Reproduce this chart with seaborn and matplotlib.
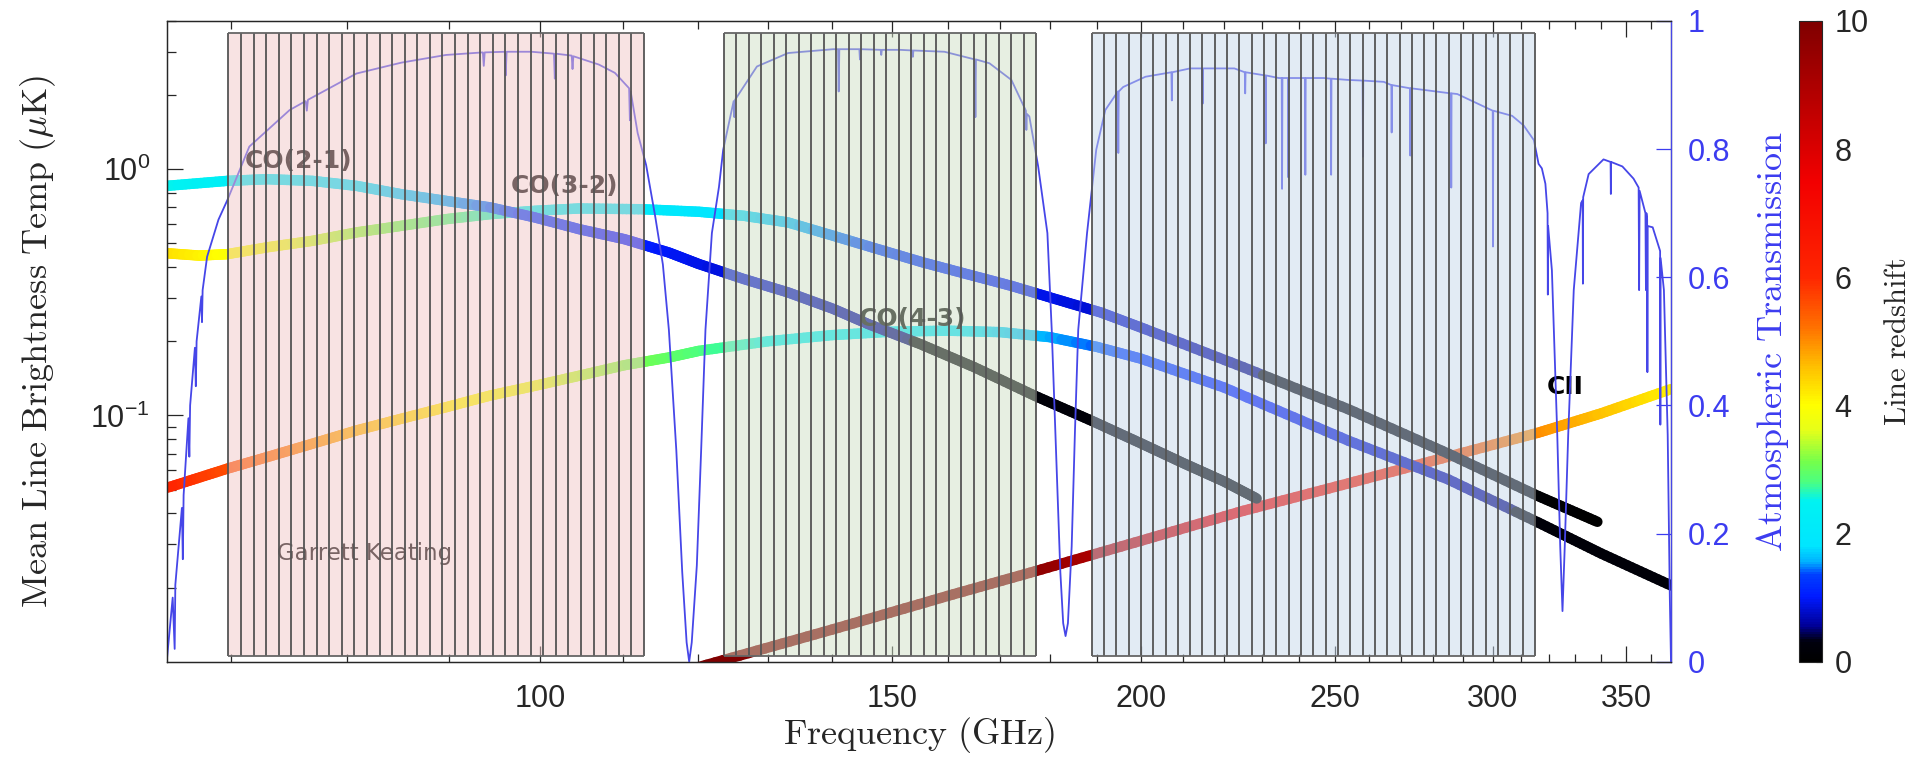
import numpy as np
import matplotlib
matplotlib.use("Agg")
import matplotlib.pyplot as plt
import seaborn as sns
from matplotlib.collections import LineCollection
from matplotlib.colors import LinearSegmentedColormap, Normalize
from matplotlib.cm import ScalarMappable
from matplotlib.ticker import FixedLocator, NullFormatter

# ---------------- data ----------------
co21_rest = 230.538
co21_freq = [65.0, 69.7, 73.0, 76.9, 80.9, 85.2, 89.7, 94.4, 99.4, 104.6, 110.2, 116.0,
             120.1, 126.5, 133.1, 140.2, 146.0, 155.0, 165.0, 177.0, 189.0, 200.0, 210.0,
             220.0, 228.5]
co21_tb = [0.856, 0.897, 0.911, 0.897, 0.856, 0.792, 0.744, 0.700, 0.637, 0.571, 0.520, 0.459,
           0.412, 0.358, 0.316, 0.271, 0.235, 0.195, 0.157, 0.120, 0.095, 0.077, 0.064,
           0.054, 0.046]

co32_rest = 345.796
co32_freq = [65.0, 67.5, 69.7, 73.0, 76.9, 80.9, 85.2, 89.7, 94.4, 99.4, 104.6, 112.5, 120.1,
             126.5, 133.1, 140.2, 147.6, 155.4, 163.6, 172.2, 181.2, 190.9, 201.0, 225.0,
             254.0, 285.0, 316.3, 338.5]
co32_tb = [0.456, 0.446, 0.452, 0.482, 0.512, 0.554, 0.589, 0.627, 0.657, 0.678, 0.693, 0.688,
           0.672, 0.647, 0.608, 0.537, 0.474, 0.419, 0.375, 0.336, 0.297, 0.262, 0.224, 0.157,
           0.106, 0.070, 0.047, 0.037]

co43_rest = 461.041
co43_freq = [65.0, 69.7, 73.0, 76.9, 80.9, 85.2, 89.7, 94.4, 99.4, 104.6, 110.2, 116.0, 120.1,
             130.0, 140.0, 150.0, 160.0, 170.0, 180.0, 190.0, 200.0, 220.0, 254.0, 285.0,
             316.3, 340.0, 368.5]
co43_tb = [0.0508, 0.0608, 0.0678, 0.0768, 0.0869, 0.097, 0.108, 0.1205, 0.132, 0.145, 0.160,
           0.172, 0.183, 0.200, 0.212, 0.219, 0.221, 0.218, 0.208, 0.190, 0.170, 0.130, 0.079,
           0.055, 0.0367, 0.0275, 0.0204]

cii_rest = 1900.54
cii_freq = [120.0, 140.0, 160.0, 177.0, 200.0, 225.0, 254.0, 285.0, 316.0, 340.0, 368.5]
cii_tb = [0.0095, 0.0135, 0.0185, 0.0233, 0.031, 0.041, 0.053, 0.068, 0.085, 0.102, 0.128]

atm_freq = [65.00, 65.45, 65.60, 65.65, 66.15, 66.22, 66.28, 66.65, 66.72, 66.78, 67.15, 67.22,
            67.28, 67.65, 67.70, 67.75, 68.1, 69.0, 69.7, 71.5, 74.9, 76.3, 76.4, 76.5, 80.9,
            85.2, 89.7, 93.6, 93.7, 93.8, 96.0, 96.1, 96.2, 99.0, 101.6, 101.7, 101.8, 103.7,
            103.8, 103.9, 107.0, 109.0, 110.8, 110.9, 111.0, 111.9, 113.0, 114.2, 115.2, 116.0,
            117.0, 117.8, 118.4, 118.75, 119.1, 119.8, 120.4, 121.0, 121.9, 122.9, 123.5, 125.0,
            125.1, 125.2, 128.4, 133.1, 140.2, 141.0, 141.1, 141.2, 144.5, 144.6, 144.7, 148.1,
            148.2, 148.3, 151.4, 153.6, 153.7, 153.8, 159.4, 165.1, 165.2, 165.3, 167.9, 172.2,
            175.1, 175.2, 175.3, 175.8, 177.6, 179.5, 180.4, 181.3, 182.2, 182.8, 183.3, 183.8,
            184.6, 185.3, 186.0, 187.9, 189.9, 191.9, 194.7, 194.8, 194.9, 195.9, 201.0, 207.1,
            207.2, 207.3, 211.6, 214.6, 214.7, 214.8, 222.7, 225.4, 225.5, 225.6, 230.8, 230.9,
            231.0, 234.4, 235.2, 235.3, 235.4, 236.9, 237.0, 237.1, 241.6, 241.7, 241.8, 246.9,
            248.9, 249.0, 249.1, 254.0, 258.2, 258.3, 258.4, 264.6, 266.9, 267.0, 267.1, 272.7,
            272.8, 272.9, 276.2, 285.9, 286.0, 286.1, 288.0, 300.0, 300.1, 300.2, 306.8, 310.9,
            314.6, 316.3, 317.5, 318.8, 319.6, 319.7, 319.8, 321.2, 323.2, 324.3, 325.15, 326.0,
            327.3, 329.4, 332.2, 332.8, 332.9, 333.0, 335.1, 340.9, 343.7, 343.8, 343.9, 348.4,
            352.9, 355.0, 355.2, 355.4, 357.8, 358.0, 358.2, 358.5, 358.6, 358.7, 360.8, 363.9,
            364.0, 364.1, 365.5, 367.1, 368.0, 368.5]
atm_trans = [0.00, 0.10, 0.02, 0.12, 0.24, 0.16, 0.26, 0.38, 0.32, 0.40, 0.49, 0.43,
             0.50, 0.57, 0.53, 0.58, 0.632, 0.69, 0.72, 0.804, 0.861, 0.875, 0.86, 0.877, 0.918,
             0.935, 0.947, 0.951, 0.93, 0.951, 0.952, 0.915, 0.952, 0.952, 0.949, 0.91, 0.949, 0.946,
             0.925, 0.945, 0.932, 0.919, 0.895, 0.845, 0.89, 0.825, 0.775, 0.694, 0.62, 0.518,
             0.33, 0.14, 0.03, 0.0, 0.03, 0.15, 0.33, 0.518, 0.669, 0.741, 0.799, 0.875,
             0.85, 0.877, 0.929, 0.950, 0.956, 0.956, 0.89, 0.956, 0.956, 0.94, 0.956, 0.955,
             0.947, 0.955, 0.955, 0.954, 0.944, 0.954, 0.952, 0.94, 0.85, 0.94, 0.934, 0.908,
             0.86, 0.83, 0.855, 0.851, 0.773, 0.669, 0.518, 0.33, 0.14, 0.06, 0.04, 0.06,
             0.18, 0.36, 0.518, 0.669, 0.799, 0.861, 0.89, 0.794, 0.89, 0.897, 0.913, 0.92,
             0.876, 0.92, 0.926, 0.926, 0.871, 0.926, 0.926, 0.92, 0.887, 0.92, 0.915, 0.809,
             0.915, 0.911, 0.911, 0.738, 0.911, 0.911, 0.756, 0.911, 0.911, 0.76, 0.911, 0.911,
             0.91, 0.76, 0.91, 0.908, 0.907, 0.788, 0.907, 0.905, 0.90, 0.826, 0.90, 0.895,
             0.79, 0.895, 0.893, 0.887, 0.74, 0.887, 0.886, 0.86, 0.648, 0.86, 0.852, 0.837,
             0.814, 0.777, 0.77, 0.746, 0.70, 0.573, 0.68, 0.611, 0.354, 0.18, 0.079, 0.18,
             0.354, 0.58, 0.716, 0.72, 0.59, 0.725, 0.761, 0.784, 0.78, 0.73, 0.78, 0.773,
             0.754, 0.74, 0.58, 0.735, 0.70, 0.58, 0.70, 0.69, 0.452, 0.68, 0.678, 0.641,
             0.37, 0.63, 0.58, 0.354, 0.10, 0.0]

band_lo = [69.8, 123.6, 188.9]
band_hi = [112.7, 177.2, 315.0]
band_nchan = [33, 25, 36]
band_colors = [(0.95, 0.79, 0.79), (0.82, 0.88, 0.78), (0.78, 0.85, 0.92)]

line_labels = ["CO(2-1)", "CO(3-2)", "CO(4-3)", "CII"]
line_label_freq = [75.7, 102.8, 153.6, 326.0]
line_label_tb = [1.077, 0.853, 0.247, 0.1306]

x_major = [100, 150, 200, 250, 300, 350]
x_minor = [70, 80, 90, 110, 120, 130, 140, 160, 170, 180, 190, 210, 220, 230, 240, 260, 270,
           280, 290, 310, 320, 330, 340, 360]
y_major = [0.1, 1.0]
y_major_labels = [r'$\mathdefault{10^{-1}}$', r'$\mathdefault{10^{0}}$']
y_minor = [0.02, 0.03, 0.04, 0.05, 0.06, 0.07, 0.08, 0.09, 0.2, 0.3, 0.4, 0.5, 0.6, 0.7,
           0.8, 0.9, 2, 3, 4]
trans_ticks = [0, 0.2, 0.4, 0.6, 0.8, 1]
cbar_ticks = [0, 2, 4, 6, 8, 10]

# ---------------- style ----------------
sns.set_style("ticks")
plt.rcParams['font.family'] = ['Liberation Sans', 'DejaVu Sans']
plt.rcParams['mathtext.fontset'] = 'custom'
plt.rcParams['mathtext.rm'] = 'Liberation Sans'
plt.rcParams['mathtext.it'] = 'Liberation Sans:italic'
plt.rcParams['axes.linewidth'] = 0.9

BLUE = '#4646e8'
TICKBLUE = '#3c3cf0'

cmap = LinearSegmentedColormap.from_list("zjet", [
    (0.00, (0, 0, 0)), (0.03, (0, 0, 0.05)), (0.055, (0, 0, 0.6)), (0.10, (0, 0.1, 1)),
    (0.135, (0, 0.25, 1)), (0.155, (0, 0.7, 1)), (0.18, (0, 0.9, 1)), (0.25, (0, 0.95, 0.95)),
    (0.28, (0.3, 1, 0.5)), (0.31, (0.45, 1, 0.3)), (0.36, (0.9, 1, 0.1)), (0.40, (1, 1, 0)),
    (0.46, (1, 0.75, 0)), (0.52, (1, 0.45, 0)), (0.60, (1, 0.15, 0)), (0.75, (0.95, 0, 0)),
    (1.00, (0.5, 0, 0))])
norm = Normalize(0, 10)

W, H = 1915, 757
fig = plt.figure(figsize=(W / 100, H / 100), dpi=100)
ax_l, ax_r, ax_t, ax_b = 166.7, 1671.0, 21.0, 661.7
ax = fig.add_axes([ax_l / W, 1 - ax_b / H, (ax_r - ax_l) / W, (ax_b - ax_t) / H])
ax.set_xscale('log')
ax.set_yscale('log')
ax.set_xlim(65, 368.5)
ax.set_ylim(0.01, 4)


def draw_colored(axis, freqs, tbs, rest, lw=7.5):
    lf = np.log(np.asarray(freqs, float))
    lt = np.log(np.asarray(tbs, float))
    segs, cols = [], []
    for i in range(len(lf) - 1):
        s = np.linspace(0.0, 1.0, 17)
        xs = np.exp(lf[i] + (lf[i + 1] - lf[i]) * s)
        ys = np.exp(lt[i] + (lt[i + 1] - lt[i]) * s)
        for j in range(len(s) - 1):
            segs.append([(xs[j], ys[j]), (xs[j + 1], ys[j + 1])])
            fm = np.sqrt(xs[j] * xs[j + 1])
            z = rest / fm - 1.0
            if z < 0.5:
                z = min(z, 0.2)
            cols.append(cmap(norm(z)))
    lc = LineCollection(segs, colors=cols, linewidths=lw, capstyle='round', zorder=2)
    axis.add_collection(lc, autolim=False)


draw_colored(ax, cii_freq, cii_tb, cii_rest)
draw_colored(ax, co43_freq, co43_tb, co43_rest)
draw_colored(ax, co32_freq, co32_tb, co32_rest)
draw_colored(ax, co21_freq, co21_tb, co21_rest)

for lab, f, t in zip(line_labels, line_label_freq, line_label_tb):
    ax.text(f, t, lab, fontsize=18, fontweight='bold', family='DejaVu Sans',
            ha='center', va='center', color='black', zorder=3)
ax.text(81.7, 0.0275, 'Garrett Keating', fontsize=16.5, family='DejaVu Sans',
        ha='center', va='center', color='black', zorder=3)

ax.xaxis.set_major_locator(FixedLocator(x_major))
ax.set_xticklabels([str(v) for v in x_major])
ax.xaxis.set_minor_locator(FixedLocator(x_minor))
ax.xaxis.set_minor_formatter(NullFormatter())
ax.yaxis.set_major_locator(FixedLocator(y_major))
ax.set_yticklabels(y_major_labels)
ax.yaxis.set_minor_locator(FixedLocator(y_minor))
ax.yaxis.set_minor_formatter(NullFormatter())
ax.tick_params(axis='x', which='both', direction='in', top=True, bottom=True,
               labelsize=22, pad=16, width=0.9)
ax.tick_params(axis='x', which='major', length=11.5)
ax.tick_params(axis='x', which='minor', length=5.8)
ax.tick_params(axis='y', which='both', direction='in', left=True, right=False,
               labelsize=22, pad=12, width=0.9)
ax.tick_params(axis='y', which='major', length=11.2)
ax.tick_params(axis='y', which='minor', length=6.5)

# ---------------- twin axis: atmosphere + bands ----------------
ax2 = ax.twinx()
ax2.set_ylim(0, 1)
sns.lineplot(x=np.asarray(atm_freq), y=np.asarray(atm_trans), ax=ax2, color=BLUE,
             linewidth=1.3, estimator=None, sort=False, zorder=2)
ax2.set_xlim(65, 368.5)
ax2.set_ylim(0, 1)

ymin_b, ymax_b = 0.0089, 0.9817
for lo, hi, n, c in zip(band_lo, band_hi, band_nchan, band_colors):
    ax2.axvspan(lo, hi, ymin=ymin_b, ymax=ymax_b, facecolor=c, alpha=0.5,
                edgecolor='none', zorder=3)
    edges = np.geomspace(lo, hi, n + 1)
    ax2.vlines(edges, ymin_b, ymax_b, colors='#555555', linewidth=1.3, zorder=4)
    ax2.hlines([ymin_b, ymax_b], lo, hi, colors='#666666', linewidth=1.3, zorder=4)

ax2.set_yticks(trans_ticks)
ax2.set_yticklabels(['%g' % v for v in trans_ticks])
ax2.tick_params(axis='y', direction='in', colors=TICKBLUE, labelsize=22, length=11,
                pad=12, width=0.9)
ax2.spines['right'].set_color(BLUE)
ax2.set_xlabel('')

ax.set_xlabel(r'$\mathrm{Frequency\ (GHz)}$', fontsize=26, math_fontfamily='cm')
ax.xaxis.set_label_coords(0.5, -0.083)
ax.xaxis.label.set_va('top')
ax.set_ylabel(r'$\mathrm{Mean\ Line\ Brightness\ Temp\ (}\mu\mathrm{K)}$', fontsize=26,
              math_fontfamily='cm')
ax.yaxis.set_label_coords((58 - ax_l) / (ax_r - ax_l), 0.5)
ax2.set_ylabel(r'$\mathrm{Atmospheric\ Transmission}$', fontsize=26, math_fontfamily='cm',
               color=TICKBLUE)
ax2.yaxis.set_label_coords((1754 - ax_l) / (ax_r - ax_l), 0.5)

# ---------------- colorbar ----------------
cax = fig.add_axes([1799 / W, 1 - ax_b / H, 23 / W, (ax_b - ax_t) / H])
sm = ScalarMappable(norm=norm, cmap=cmap)
cb = fig.colorbar(sm, cax=cax)
cb.set_ticks(cbar_ticks)
cb.ax.tick_params(labelsize=22, direction='in', length=4, width=0.8, pad=9)
cb.outline.set_linewidth(0.8)
cb.set_label(r'$\mathrm{Line\ redshift}$', fontsize=22, math_fontfamily='cm')
cb.ax.yaxis.set_label_coords(1 + (1883 - 1822) / 23, 0.5)
cb.ax.yaxis.label.set_va('top')

fig.savefig('out.png', dpi=100)
